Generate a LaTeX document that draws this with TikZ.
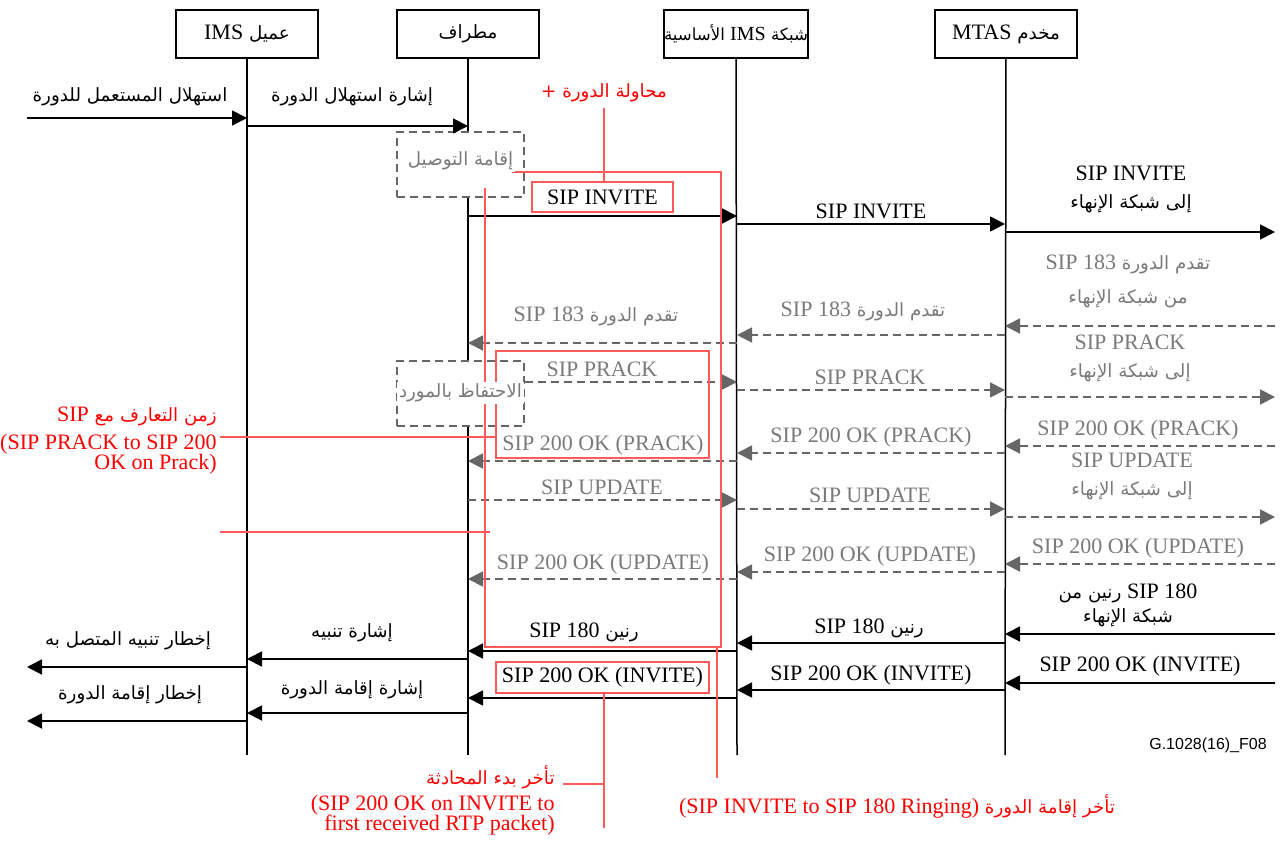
\documentclass[tikz,border=0pt]{standalone}
\usepackage{fontspec}
\setmainfont{Liberation Serif}
\newfontfamily\arfont[Script=Arabic,Scale=0.83]{DejaVu Sans}
\newfontfamily\sffnt{Liberation Sans}
\TeXXeTstate=1
\usetikzlibrary{arrows.meta}
\definecolor{gtxt}{HTML}{7A7A7A}
\definecolor{gln}{HTML}{666666}
\definecolor{rtxt}{HTML}{FF0000}
\definecolor{rln}{HTML}{FF5A5A}
\newcommand\AR[1]{{\arfont\beginR #1\endR}}
\newcommand\LT[1]{\beginL{\rmfamily #1}\endL}
\newcommand\msg[5]{\coordinate (#5s) at (#3,#2); \coordinate (#5e) at (#4,#2); \draw[#1] (#5s) -- (#5e);}
\def\xA{27}\def\xC{247}\def\xT{468}\def\xN{737}\def\xM{1005}\def\xE{1275}
\tikzset{
  every node/.style={font=\fontsize{11}{13}\selectfont, inner sep=1pt},
  hdr/.style={draw, line width=0.75pt, minimum width=71pt, minimum height=24pt, fill=white, inner sep=0pt},
  life/.style={line width=0.75pt},
  bm/.style={line width=0.9pt, -{Triangle[length=7.5pt,width=7.5pt]}},
  gm/.style={line width=0.9pt, draw=gln, dash pattern=on 4pt off 2.5pt, -{Triangle[length=7.5pt,width=7.5pt,fill=gln]}},
  gl/.style={text=gtxt},
  rl/.style={text=rtxt},
  dbox/.style={draw=gln, line width=0.75pt, dash pattern=on 4pt off 2.5pt, fill=white, minimum width=63.5pt, minimum height=32.5pt},
  rbox/.style={draw=rln, line width=0.6pt, inner sep=0pt},
  rline/.style={draw=rln, line width=0.6pt},
}
\begin{document}
\begin{tikzpicture}[x=0.5pt,y=-0.5pt]
\path[use as bounding box, fill=white] (0,0) rectangle (1288,840);
% headers and lifelines
\node[hdr] (c) at (247,34) {\AR{عميل \LT{IMS}}};
\node[hdr] (t) at (468,34) {\AR{مطراف}};
\node[hdr, font=\fontsize{10}{12}\selectfont] (n) at (736,34) {\AR{شبكة \LT{IMS} الأساسية}};
\node[hdr] (m) at (1006,34) {\AR{مخدم \LT{MTAS}}};
\coordinate (cb) at (\xC,755); \coordinate (tb) at (\xT,755);
\coordinate (nb) at (\xN,755); \coordinate (mb) at (\xM,755);
\draw[life] (c) -- (cb); \draw[life] (t) -- (tb);
\draw[life] (n) -- (nb); \draw[life] (m) -- (mb);
% dashed boxes
\node[dbox] (bx1) at (460.5,164.5) {};
\node[dbox] (bx2) at (460.5,393.5) {};
% black messages
\msg{bm}{118}{\xA}{\xC}{m1}
\msg{bm}{126}{\xC}{\xT}{m2}
\msg{bm}{216}{\xT}{\xN}{m3}
\msg{bm}{224}{\xN}{\xM}{m4}
\msg{bm}{232}{\xM}{\xE}{m5}
% gray dashed messages
\msg{gm}{326}{\xE}{\xM}{g1}
\msg{gm}{335}{\xM}{\xN}{g2}
\msg{gm}{343}{\xN}{\xT}{g3}
\coordinate (g4s) at (bx2.east |- 0,382); \coordinate (g4e) at (\xN,382); \draw[gm] (g4s) -- (g4e);
\msg{gm}{390}{\xN}{\xM}{g5}
\msg{gm}{397}{\xM}{\xE}{g6}
\msg{gm}{446}{\xE}{\xM}{g7}
\msg{gm}{453}{\xM}{\xN}{g8}
\msg{gm}{461}{\xN}{\xT}{g9}
\msg{gm}{500}{\xT}{\xN}{g10}
\msg{gm}{509}{\xN}{\xM}{g11}
\msg{gm}{517}{\xM}{\xE}{g12}
\msg{gm}{564}{\xE}{\xM}{g13}
\msg{gm}{572}{\xM}{\xN}{g14}
\msg{gm}{579}{\xN}{\xT}{g15}
% black messages, end
\msg{bm}{634}{\xE}{\xM}{b1}
\msg{bm}{643}{\xM}{\xN}{b2}
\msg{bm}{651}{\xN}{\xT}{b3}
\msg{bm}{659}{\xT}{\xC}{b4}
\msg{bm}{667}{\xC}{\xA}{b5}
\msg{bm}{683}{\xE}{\xM}{b6}
\msg{bm}{690}{\xM}{\xN}{b7}
\msg{bm}{698}{\xN}{\xT}{b8}
\msg{bm}{713}{\xT}{\xC}{b9}
\msg{bm}{721}{\xC}{\xA}{b10}
% red frames and lines
\node[rbox, minimum width=70.5pt, minimum height=15pt] (ri) at (602.5,197) {};
\node[rbox, minimum width=106.5pt, minimum height=53.5pt] (rp) at (602.5,404.5) {};
\node[rbox, minimum width=106.5pt, minimum height=15.5pt] (ro) at (602.5,677.5) {};
\coordinate (r1) at (512,172); \coordinate (r2) at (721,172); \coordinate (r3) at (721,647);
\coordinate (r4) at (485,647); \coordinate (r5) at (485,188);
\draw[rline] (r1) -- (r2) -- (r3) -- (r4) -- (r5);
\coordinate (r6) at (717,647); \coordinate (r7) at (717,778);
\draw[rline] (r6) -- (r7);
\coordinate (ra) at (604,108);
\draw[rline] (ra) -- (ri.north -| ra);
\coordinate (rb) at (220,437);
\draw[rline] (rb) -- (rp.west |- rb);
\coordinate (rc) at (220,532); \coordinate (rd) at (490,532);
\draw[rline] (rc) -- (rd);
\coordinate (re) at (604,828);
\draw[rline] (ro.south -| re) -- (re);
\coordinate (rf) at (563,784); \coordinate (rg) at (604,784);
\draw[rline] (rf) -- (rg);
% box texts
\node[gl, fill=white] (bt1) at (460.5,161) {\AR{إقامة التوصيل}};
\node[gl, fill=white] (bt2) at (460.5,393) {\AR{الاحتفاظ بالمورد}};
\node (ti) at (602.5,197) {SIP INVITE};
\node (to) at (602.5,677) {SIP 200 OK (INVITE)};
% labels
\node (l1) at (130,97) {\AR{استهلال المستعمل للدورة}};
\node (l2) at (352,97) {\AR{إشارة استهلال الدورة}};
\node[rl] (l3) at (604,93) {\AR{محاولة الدورة +}};
\node (l4) at (871,211) {SIP INVITE};
\node[align=center] (l5) at (1131,189) {SIP INVITE\\[1pt]\AR{إلى شبكة الإنهاء}};
\node[gl, align=center] (l6) at (1128,281) {\AR{تقدم الدورة \LT{SIP 183}}\\[4pt]\AR{من شبكة الإنهاء}};
\node[gl] (l7) at (863,311) {\AR{تقدم الدورة \LT{SIP 183}}};
\node[gl] (l8) at (596,316) {\AR{تقدم الدورة \LT{SIP 183}}};
\node[gl] (l9) at (602,369) {SIP PRACK};
\node[gl] (l10) at (870,377) {SIP PRACK};
\node[gl, align=center] (l11) at (1130,358) {SIP PRACK\\[1pt]\AR{إلى شبكة الإنهاء}};
\node[gl] (l12) at (1138,430) {SIP 200 OK (PRACK)};
\node[gl] (l13) at (871,437) {SIP 200 OK (PRACK)};
\node[gl] (l14) at (603,445) {SIP 200 OK (PRACK)};
\node[gl] (l15) at (602,487) {SIP UPDATE};
\node[gl] (l16) at (870,495) {SIP UPDATE};
\node[gl, align=center] (l17) at (1132,476) {SIP UPDATE\\[1pt]\AR{إلى شبكة الإنهاء}};
\node[gl] (l18) at (603,564) {SIP 200 OK (UPDATE)};
\node[gl] (l19) at (870,556) {SIP 200 OK (UPDATE)};
\node[gl] (l20) at (1138,548) {SIP 200 OK (UPDATE)};
\node[align=center] (l21) at (1128,605) {\AR{\LT{SIP 180} رنين من}\\[-1pt]\AR{شبكة الإنهاء}};
\node (l22) at (869,628) {\AR{رنين \LT{SIP 180}}};
\node (l23) at (584,632) {\AR{رنين \LT{SIP 180}}};
\node (l24) at (352,633) {\AR{إشارة تنبيه}};
\node (l25) at (128,641) {\AR{إخطار تنبيه المتصل به}};
\node (l26) at (1140,666) {SIP 200 OK (INVITE)};
\node (l27) at (871,675) {SIP 200 OK (INVITE)};
\node (l28) at (352,690) {\AR{إشارة إقامة الدورة}};
\node (l29) at (130,695) {\AR{إخطار إقامة الدورة}};
% red notes
\node[rl, anchor=east] (n1) at (219,416) {\AR{زمن التعارف مع \LT{SIP}}};
\node[rl, anchor=east, align=right] (n2) at (219,454) {(SIP PRACK to SIP 200\\[-3pt]OK on Prack)};
\node[rl, anchor=east] (n3) at (557,777) {\AR{تأخر بدء المحادثة}};
\node[rl, anchor=east, align=right] (n4) at (557,815) {(SIP 200 OK on INVITE to\\[-3pt]first received RTP packet)};
\node[rl] (n5) at (897,806) {\AR{تأخر إقامة الدورة \LT{(SIP INVITE to SIP 180 Ringing)}}};
\node[font=\sffnt\fontsize{8}{9}\selectfont] (fig) at (1208,745) {G.1028(16)\_F08};
\end{tikzpicture}
\end{document}
